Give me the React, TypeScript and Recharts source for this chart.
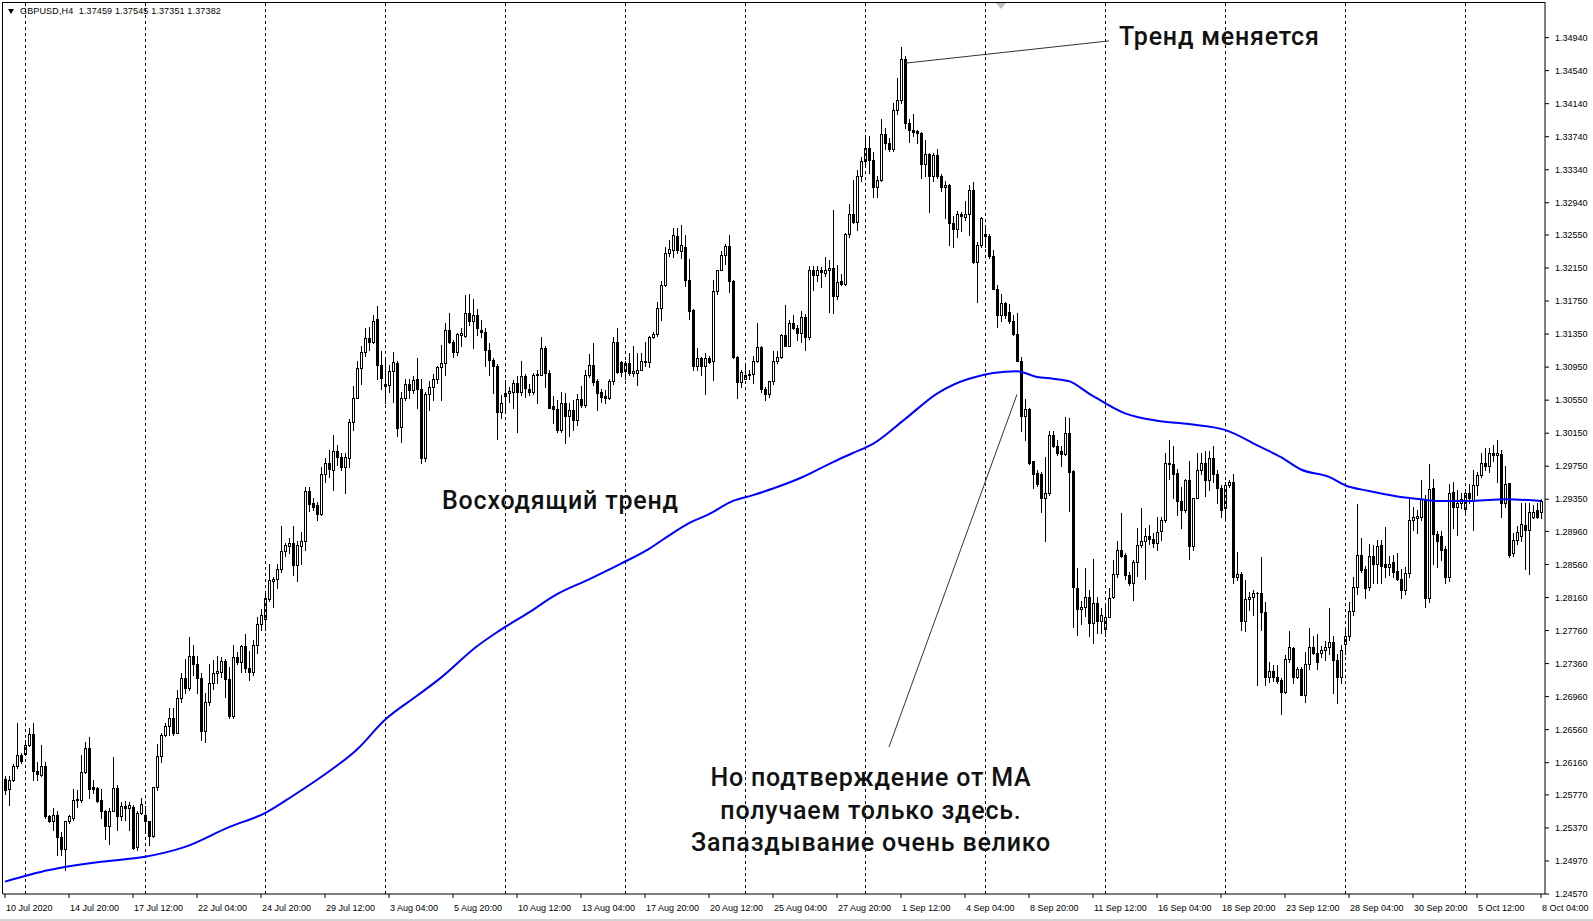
import React from 'react';
import { ComposedChart, Bar, Line, XAxis, YAxis, ReferenceLine } from 'recharts';

// [open, high, low, close] for each H4 bar, one array per trading week
type Ohlc = [number, number, number, number];

const fri10Jul: Ohlc[] = [
  [1.2596, 1.2600, 1.2578, 1.2583], [1.2584, 1.2600, 1.2565, 1.2595], [1.2595, 1.2615, 1.2594, 1.2612],
  [1.2612, 1.2664, 1.2610, 1.2625], [1.2625, 1.2628, 1.2616, 1.2618],
];

const wk13Jul: Ohlc[] = [
  [1.2627, 1.2643, 1.2625, 1.2638], [1.2638, 1.2658, 1.2636, 1.2651], [1.2651, 1.2664, 1.2595, 1.2606],
  [1.2606, 1.2617, 1.2595, 1.2602], [1.2601, 1.2637, 1.2600, 1.2612], [1.2612, 1.2617, 1.2549, 1.2552],
  [1.2552, 1.2553, 1.2544, 1.2545], [1.2545, 1.2561, 1.2534, 1.2553], [1.2553, 1.2557, 1.2504, 1.2526],
  [1.2526, 1.2532, 1.2504, 1.2511], [1.2511, 1.2545, 1.2486, 1.2545], [1.2545, 1.2553, 1.2543, 1.2551],
  [1.2549, 1.2584, 1.2547, 1.2571], [1.2571, 1.2583, 1.2562, 1.2572], [1.2571, 1.2625, 1.2569, 1.2605],
  [1.2605, 1.2641, 1.2603, 1.2634], [1.2634, 1.2647, 1.2573, 1.2584], [1.2586, 1.2595, 1.2579, 1.2584],
  [1.2585, 1.2587, 1.2569, 1.2570], [1.2571, 1.2584, 1.2549, 1.2557], [1.2557, 1.2559, 1.2524, 1.2539],
  [1.2539, 1.2561, 1.2517, 1.2557], [1.2557, 1.2623, 1.2557, 1.2585], [1.2585, 1.2589, 1.2534, 1.2551],
  [1.2551, 1.2569, 1.2547, 1.2563], [1.2563, 1.2570, 1.2547, 1.2561], [1.2561, 1.2569, 1.2535, 1.2565],
  [1.2562, 1.2565, 1.2512, 1.2513], [1.2514, 1.2557, 1.2510, 1.2555], [1.2555, 1.2573, 1.2554, 1.2566],
];

const wk20Jul: Ohlc[] = [
  [1.2553, 1.2563, 1.2534, 1.2545], [1.2545, 1.2545, 1.2516, 1.2527], [1.2527, 1.2587, 1.2526, 1.2586],
  [1.2586, 1.2639, 1.2583, 1.2624], [1.2624, 1.2652, 1.2617, 1.2650], [1.2650, 1.2664, 1.2648, 1.2660],
  [1.2660, 1.2682, 1.2650, 1.2670], [1.2670, 1.2682, 1.2650, 1.2652], [1.2652, 1.2704, 1.2652, 1.2694],
  [1.2694, 1.2725, 1.2690, 1.2718], [1.2718, 1.2742, 1.2700, 1.2706], [1.2706, 1.2768, 1.2704, 1.2745],
  [1.2745, 1.2758, 1.2722, 1.2735], [1.2735, 1.2745, 1.2700, 1.2718], [1.2718, 1.2725, 1.2643, 1.2654],
  [1.2654, 1.2700, 1.2641, 1.2690], [1.2690, 1.2735, 1.2686, 1.2712], [1.2712, 1.2740, 1.2705, 1.2725],
  [1.2725, 1.2745, 1.2712, 1.2727], [1.2726, 1.2744, 1.2720, 1.2739], [1.2739, 1.2742, 1.2696, 1.2717],
  [1.2717, 1.2732, 1.2670, 1.2672], [1.2672, 1.2758, 1.2670, 1.2744], [1.2744, 1.2750, 1.2736, 1.2738],
  [1.2738, 1.2758, 1.2726, 1.2757], [1.2757, 1.2772, 1.2726, 1.2731], [1.2731, 1.2751, 1.2716, 1.2726],
  [1.2726, 1.2765, 1.2722, 1.2759], [1.2759, 1.2793, 1.2749, 1.2784], [1.2784, 1.2802, 1.2777, 1.2795],
];

const wk27Jul: Ohlc[] = [
  [1.2790, 1.2821, 1.2777, 1.2815], [1.2814, 1.2857, 1.2812, 1.2837], [1.2836, 1.2841, 1.2805, 1.2838],
  [1.2838, 1.2857, 1.2828, 1.2851], [1.2851, 1.2902, 1.2847, 1.2872], [1.2872, 1.2882, 1.2866, 1.2880],
  [1.2878, 1.2888, 1.2870, 1.2882], [1.2882, 1.2902, 1.2843, 1.2855], [1.2855, 1.2884, 1.2836, 1.2879],
  [1.2878, 1.2895, 1.2857, 1.2884], [1.2884, 1.2950, 1.2873, 1.2945], [1.2945, 1.2950, 1.2921, 1.2929],
  [1.2930, 1.2936, 1.2922, 1.2926], [1.2928, 1.2932, 1.2910, 1.2917], [1.2917, 1.2974, 1.2916, 1.2965],
  [1.2965, 1.2985, 1.2956, 1.2979], [1.2979, 1.2995, 1.2962, 1.2972], [1.2971, 1.3013, 1.2946, 1.2994],
  [1.2994, 1.3001, 1.2977, 1.2986], [1.2986, 1.2991, 1.2970, 1.2974], [1.2974, 1.2991, 1.2943, 1.2986],
  [1.2985, 1.3032, 1.2974, 1.3029], [1.3029, 1.3072, 1.3019, 1.3058], [1.3058, 1.3103, 1.3057, 1.3094],
  [1.3094, 1.3120, 1.3075, 1.3113], [1.3113, 1.3142, 1.3109, 1.3130], [1.3130, 1.3144, 1.3116, 1.3126],
  [1.3126, 1.3158, 1.3124, 1.3151], [1.3153, 1.3169, 1.3080, 1.3097], [1.3097, 1.3114, 1.3069, 1.3082],
];

const wk03Aug: Ohlc[] = [
  [1.3074, 1.3106, 1.3052, 1.3072], [1.3073, 1.3098, 1.3065, 1.3090], [1.3090, 1.3113, 1.3053, 1.3101],
  [1.3100, 1.3102, 1.3011, 1.3021], [1.3022, 1.3065, 1.3004, 1.3057], [1.3057, 1.3080, 1.3055, 1.3074],
  [1.3074, 1.3080, 1.3057, 1.3067], [1.3067, 1.3084, 1.3064, 1.3079], [1.3080, 1.3106, 1.3045, 1.3068],
  [1.3068, 1.3080, 1.2979, 1.2985], [1.2985, 1.3065, 1.2981, 1.3063], [1.3063, 1.3078, 1.3043, 1.3071],
  [1.3071, 1.3087, 1.3055, 1.3080], [1.3080, 1.3096, 1.3076, 1.3095], [1.3095, 1.3122, 1.3055, 1.3100],
  [1.3100, 1.3148, 1.3085, 1.3140], [1.3140, 1.3160, 1.3124, 1.3126], [1.3126, 1.3128, 1.3107, 1.3113],
  [1.3113, 1.3136, 1.3110, 1.3135], [1.3134, 1.3142, 1.3120, 1.3136], [1.3133, 1.3182, 1.3131, 1.3160],
  [1.3160, 1.3184, 1.3146, 1.3151], [1.3151, 1.3178, 1.3118, 1.3158], [1.3158, 1.3165, 1.3134, 1.3142],
  [1.3140, 1.3152, 1.3132, 1.3138], [1.3138, 1.3142, 1.3096, 1.3116], [1.3116, 1.3124, 1.3085, 1.3104],
  [1.3104, 1.3106, 1.3064, 1.3096], [1.3096, 1.3099, 1.3008, 1.3041], [1.3041, 1.3061, 1.3033, 1.3052],
];

const wk10Aug: Ohlc[] = [
  [1.3060, 1.3079, 1.3039, 1.3064], [1.3064, 1.3071, 1.3053, 1.3066], [1.3065, 1.3079, 1.3045, 1.3076],
  [1.3076, 1.3084, 1.3017, 1.3065], [1.3065, 1.3102, 1.3061, 1.3084], [1.3084, 1.3087, 1.3059, 1.3070],
  [1.3069, 1.3075, 1.3061, 1.3065], [1.3065, 1.3088, 1.3063, 1.3085], [1.3087, 1.3092, 1.3052, 1.3085],
  [1.3086, 1.3132, 1.3085, 1.3118], [1.3118, 1.3121, 1.3071, 1.3088], [1.3088, 1.3092, 1.3045, 1.3046],
  [1.3048, 1.3060, 1.3027, 1.3044], [1.3044, 1.3055, 1.3017, 1.3019], [1.3019, 1.3065, 1.3016, 1.3052],
  [1.3052, 1.3064, 1.3003, 1.3036], [1.3036, 1.3052, 1.3011, 1.3043], [1.3043, 1.3055, 1.3019, 1.3031],
  [1.3031, 1.3062, 1.3025, 1.3056], [1.3056, 1.3072, 1.3047, 1.3049], [1.3049, 1.3092, 1.3047, 1.3085],
  [1.3085, 1.3111, 1.3083, 1.3098], [1.3098, 1.3124, 1.3073, 1.3077], [1.3078, 1.3081, 1.3043, 1.3064],
  [1.3065, 1.3069, 1.3053, 1.3059], [1.3060, 1.3067, 1.3051, 1.3057], [1.3057, 1.3081, 1.3056, 1.3078],
  [1.3078, 1.3132, 1.3075, 1.3125], [1.3125, 1.3142, 1.3088, 1.3089], [1.3101, 1.3102, 1.3084, 1.3089],
];

const wk17Aug: Ohlc[] = [
  [1.3090, 1.3102, 1.3081, 1.3100], [1.3100, 1.3112, 1.3086, 1.3088], [1.3088, 1.3120, 1.3084, 1.3090],
  [1.3088, 1.3112, 1.3073, 1.3092], [1.3092, 1.3112, 1.3092, 1.3102], [1.3101, 1.3126, 1.3096, 1.3102],
  [1.3101, 1.3133, 1.3095, 1.3132], [1.3132, 1.3137, 1.3130, 1.3135], [1.3135, 1.3174, 1.3133, 1.3167],
  [1.3167, 1.3199, 1.3152, 1.3195], [1.3195, 1.3240, 1.3193, 1.3233], [1.3233, 1.3249, 1.3230, 1.3238],
  [1.3237, 1.3263, 1.3228, 1.3255], [1.3254, 1.3263, 1.3233, 1.3237], [1.3236, 1.3267, 1.3227, 1.3243],
  [1.3241, 1.3255, 1.3193, 1.3201], [1.3201, 1.3226, 1.3153, 1.3163], [1.3164, 1.3165, 1.3092, 1.3096],
  [1.3096, 1.3118, 1.3092, 1.3106], [1.3106, 1.3107, 1.3085, 1.3096], [1.3096, 1.3112, 1.3063, 1.3106],
  [1.3106, 1.3108, 1.3100, 1.3101], [1.3102, 1.3201, 1.3079, 1.3187], [1.3187, 1.3213, 1.3184, 1.3213],
  [1.3213, 1.3235, 1.3212, 1.3231], [1.3231, 1.3244, 1.3220, 1.3242], [1.3242, 1.3255, 1.3186, 1.3199],
  [1.3199, 1.3201, 1.3106, 1.3107], [1.3107, 1.3109, 1.3058, 1.3077], [1.3077, 1.3092, 1.3071, 1.3089],
];

const wk24Aug: Ohlc[] = [
  [1.3081, 1.3100, 1.3080, 1.3086], [1.3086, 1.3092, 1.3080, 1.3087], [1.3087, 1.3108, 1.3076, 1.3102],
  [1.3102, 1.3148, 1.3101, 1.3119], [1.3119, 1.3120, 1.3065, 1.3068], [1.3068, 1.3071, 1.3055, 1.3063],
  [1.3063, 1.3078, 1.3059, 1.3078], [1.3078, 1.3114, 1.3075, 1.3103], [1.3103, 1.3114, 1.3100, 1.3107],
  [1.3107, 1.3135, 1.3106, 1.3134], [1.3134, 1.3170, 1.3120, 1.3121], [1.3121, 1.3152, 1.3120, 1.3149],
  [1.3149, 1.3158, 1.3141, 1.3142], [1.3142, 1.3146, 1.3128, 1.3136], [1.3136, 1.3163, 1.3125, 1.3156],
  [1.3156, 1.3159, 1.3116, 1.3132], [1.3132, 1.3218, 1.3129, 1.3213], [1.3213, 1.3217, 1.3188, 1.3207],
  [1.3207, 1.3217, 1.3199, 1.3213], [1.3213, 1.3216, 1.3192, 1.3210], [1.3209, 1.3228, 1.3205, 1.3212],
  [1.3212, 1.3225, 1.3162, 1.3215], [1.3215, 1.3285, 1.3160, 1.3181], [1.3181, 1.3219, 1.3178, 1.3198],
  [1.3199, 1.3208, 1.3195, 1.3196], [1.3196, 1.3257, 1.3195, 1.3256], [1.3256, 1.3292, 1.3253, 1.3280],
  [1.3280, 1.3322, 1.3269, 1.3271], [1.3271, 1.3334, 1.3261, 1.3327], [1.3327, 1.3350, 1.3320, 1.3345],
];

const wk31Aug: Ohlc[] = [
  [1.3345, 1.3372, 1.3338, 1.3360], [1.3360, 1.3375, 1.3330, 1.3346], [1.3346, 1.3355, 1.3301, 1.3313],
  [1.3313, 1.3327, 1.3301, 1.3322], [1.3322, 1.3396, 1.3320, 1.3377], [1.3377, 1.3385, 1.3359, 1.3366],
  [1.3366, 1.3373, 1.3357, 1.3359], [1.3359, 1.3415, 1.3357, 1.3406], [1.3406, 1.3445, 1.3401, 1.3419],
  [1.3419, 1.3483, 1.3415, 1.3468], [1.3468, 1.3472, 1.3385, 1.3391], [1.3391, 1.3396, 1.3368, 1.3382],
  [1.3382, 1.3401, 1.3375, 1.3380], [1.3381, 1.3382, 1.3366, 1.3378], [1.3378, 1.3380, 1.3324, 1.3341],
  [1.3341, 1.3370, 1.3327, 1.3353], [1.3353, 1.3354, 1.3283, 1.3327], [1.3327, 1.3354, 1.3320, 1.3352],
  [1.3352, 1.3359, 1.3324, 1.3327], [1.3327, 1.3329, 1.3308, 1.3313], [1.3313, 1.3320, 1.3276, 1.3315],
  [1.3315, 1.3317, 1.3243, 1.3269], [1.3269, 1.3278, 1.3241, 1.3262], [1.3262, 1.3284, 1.3252, 1.3280],
  [1.3280, 1.3283, 1.3260, 1.3278], [1.3277, 1.3296, 1.3273, 1.3280], [1.3280, 1.3315, 1.3255, 1.3310],
  [1.3310, 1.3319, 1.3221, 1.3222], [1.3222, 1.3247, 1.3174, 1.3243], [1.3243, 1.3277, 1.3241, 1.3276],
];

const wk07Sep: Ohlc[] = [
  [1.3256, 1.3264, 1.3241, 1.3254], [1.3254, 1.3256, 1.3227, 1.3229], [1.3229, 1.3237, 1.3190, 1.3190],
  [1.3190, 1.3195, 1.3144, 1.3158], [1.3158, 1.3183, 1.3151, 1.3173], [1.3173, 1.3174, 1.3155, 1.3158],
  [1.3162, 1.3171, 1.3148, 1.3151], [1.3151, 1.3158, 1.3134, 1.3135], [1.3135, 1.3160, 1.3102, 1.3103],
  [1.3103, 1.3107, 1.3018, 1.3036], [1.3036, 1.3056, 1.3007, 1.3044], [1.3044, 1.3046, 1.2978, 1.2979],
  [1.2981, 1.2981, 1.2949, 1.2965], [1.2967, 1.2971, 1.2951, 1.2954], [1.2965, 1.2968, 1.2919, 1.2937],
  [1.2937, 1.2986, 1.2884, 1.2942], [1.2942, 1.3018, 1.2940, 1.3013], [1.3013, 1.3018, 1.2998, 1.3000],
  [1.3000, 1.3007, 1.2989, 1.2991], [1.2993, 1.2999, 1.2975, 1.2990], [1.2990, 1.3035, 1.2989, 1.3015],
  [1.3015, 1.3033, 1.2921, 1.2968], [1.2969, 1.2970, 1.2780, 1.2829], [1.2827, 1.2852, 1.2771, 1.2802],
  [1.2802, 1.2812, 1.2784, 1.2805], [1.2805, 1.2852, 1.2794, 1.2817], [1.2817, 1.2825, 1.2770, 1.2785],
  [1.2785, 1.2863, 1.2761, 1.2809], [1.2809, 1.2817, 1.2773, 1.2787], [1.2787, 1.2803, 1.2773, 1.2795],
];

const wk14Sep: Ohlc[] = [
  [1.2778, 1.2809, 1.2769, 1.2793], [1.2793, 1.2827, 1.2793, 1.2816], [1.2817, 1.2861, 1.2815, 1.2845],
  [1.2845, 1.2884, 1.2841, 1.2873], [1.2873, 1.2918, 1.2865, 1.2866], [1.2867, 1.2870, 1.2839, 1.2843],
  [1.2843, 1.2847, 1.2831, 1.2834], [1.2834, 1.2861, 1.2813, 1.2859], [1.2859, 1.2900, 1.2842, 1.2879],
  [1.2879, 1.2924, 1.2877, 1.2885], [1.2885, 1.2900, 1.2839, 1.2891], [1.2891, 1.2904, 1.2881, 1.2887],
  [1.2887, 1.2894, 1.2877, 1.2882], [1.2882, 1.2914, 1.2874, 1.2895], [1.2896, 1.2914, 1.2886, 1.2910],
  [1.2910, 1.2991, 1.2907, 1.2979], [1.2978, 1.3007, 1.2960, 1.2979], [1.2978, 1.2999, 1.2936, 1.2965],
  [1.2967, 1.2972, 1.2916, 1.2933], [1.2933, 1.2950, 1.2900, 1.2922], [1.2922, 1.2960, 1.2919, 1.2958],
  [1.2958, 1.2981, 1.2863, 1.2878], [1.2878, 1.2937, 1.2873, 1.2937], [1.2937, 1.2991, 1.2936, 1.2971],
  [1.2971, 1.2991, 1.2966, 1.2979], [1.2979, 1.2993, 1.2939, 1.2958], [1.2958, 1.2993, 1.2946, 1.2985],
  [1.2985, 1.3000, 1.2956, 1.2966], [1.2966, 1.2970, 1.2931, 1.2949], [1.2949, 1.2952, 1.2914, 1.2922],
];

const wk21Sep: Ohlc[] = [
  [1.2924, 1.2956, 1.2912, 1.2952], [1.2952, 1.2958, 1.2950, 1.2956], [1.2956, 1.2966, 1.2833, 1.2841],
  [1.2841, 1.2871, 1.2837, 1.2844], [1.2844, 1.2847, 1.2777, 1.2788], [1.2788, 1.2837, 1.2775, 1.2814],
  [1.2814, 1.2823, 1.2801, 1.2817], [1.2817, 1.2825, 1.2795, 1.2821], [1.2821, 1.2823, 1.2710, 1.2822],
  [1.2822, 1.2865, 1.2777, 1.2798], [1.2798, 1.2811, 1.2710, 1.2720], [1.2720, 1.2738, 1.2714, 1.2727],
  [1.2727, 1.2734, 1.2715, 1.2720], [1.2720, 1.2734, 1.2712, 1.2715], [1.2716, 1.2718, 1.2675, 1.2702],
  [1.2702, 1.2746, 1.2700, 1.2741], [1.2741, 1.2776, 1.2738, 1.2756], [1.2755, 1.2756, 1.2712, 1.2720],
  [1.2720, 1.2732, 1.2718, 1.2730], [1.2730, 1.2732, 1.2698, 1.2698], [1.2698, 1.2750, 1.2689, 1.2735],
  [1.2735, 1.2779, 1.2730, 1.2756], [1.2756, 1.2769, 1.2748, 1.2749], [1.2749, 1.2772, 1.2730, 1.2738],
  [1.2749, 1.2757, 1.2744, 1.2752], [1.2752, 1.2763, 1.2740, 1.2756], [1.2756, 1.2803, 1.2748, 1.2762],
  [1.2762, 1.2770, 1.2700, 1.2740], [1.2740, 1.2748, 1.2688, 1.2720], [1.2720, 1.2758, 1.2712, 1.2752],
];

const wk28Sep: Ohlc[] = [
  [1.2760, 1.2778, 1.2748, 1.2770], [1.2770, 1.2810, 1.2765, 1.2800], [1.2800, 1.2841, 1.2795, 1.2829],
  [1.2829, 1.2929, 1.2820, 1.2868], [1.2868, 1.2888, 1.2847, 1.2849], [1.2851, 1.2854, 1.2815, 1.2827],
  [1.2829, 1.2881, 1.2825, 1.2866], [1.2866, 1.2879, 1.2833, 1.2857], [1.2857, 1.2886, 1.2833, 1.2878],
  [1.2879, 1.2886, 1.2833, 1.2854], [1.2857, 1.2901, 1.2841, 1.2853], [1.2853, 1.2866, 1.2843, 1.2857],
  [1.2859, 1.2867, 1.2841, 1.2847], [1.2848, 1.2870, 1.2837, 1.2839], [1.2838, 1.2851, 1.2815, 1.2825],
  [1.2825, 1.2853, 1.2820, 1.2846], [1.2846, 1.2935, 1.2841, 1.2910], [1.2910, 1.2926, 1.2898, 1.2914],
  [1.2912, 1.2922, 1.2894, 1.2915], [1.2913, 1.2958, 1.2910, 1.2935], [1.2935, 1.2940, 1.2805, 1.2815],
  [1.2815, 1.2978, 1.2810, 1.2948], [1.2949, 1.2960, 1.2857, 1.2893], [1.2893, 1.2896, 1.2853, 1.2884],
  [1.2891, 1.2896, 1.2861, 1.2874], [1.2875, 1.2878, 1.2833, 1.2841], [1.2841, 1.2954, 1.2836, 1.2943],
  [1.2944, 1.2956, 1.2900, 1.2926], [1.2926, 1.2946, 1.2892, 1.2930], [1.2930, 1.2942, 1.2925, 1.2935],
];

const wk05Oct: Ohlc[] = [
  [1.2923, 1.2948, 1.2917, 1.2942], [1.2943, 1.2954, 1.2931, 1.2936], [1.2934, 1.2971, 1.2898, 1.2952],
  [1.2952, 1.2968, 1.2940, 1.2964], [1.2964, 1.2991, 1.2962, 1.2979], [1.2979, 1.2997, 1.2970, 1.2975],
  [1.2975, 1.2997, 1.2968, 1.2991], [1.2991, 1.3001, 1.2981, 1.2989], [1.2989, 1.3007, 1.2956, 1.2991],
  [1.2990, 1.2995, 1.2914, 1.2930], [1.2930, 1.2975, 1.2926, 1.2954], [1.2955, 1.2955, 1.2865, 1.2868],
  [1.2870, 1.2894, 1.2866, 1.2886], [1.2886, 1.2903, 1.2881, 1.2895], [1.2890, 1.2930, 1.2884, 1.2905],
  [1.2904, 1.2930, 1.2850, 1.2898], [1.2898, 1.2930, 1.2845, 1.2920], [1.2914, 1.2928, 1.2912, 1.2919],
  [1.2922, 1.2930, 1.2912, 1.2914], [1.2919, 1.2935, 1.2912, 1.2933],
];

// moving average: [bar index, value]
const maPoints: [number, number][] = [
  [0, 1.2472], [11, 1.2486], [24, 1.2496], [35, 1.2502], [45, 1.2514], [56, 1.2538], [65, 1.2555],
  [72, 1.2576], [80, 1.2602], [88, 1.2632], [95, 1.2668], [103, 1.2697], [109, 1.2719], [118, 1.2757],
  [123, 1.2774], [131, 1.2798], [138, 1.2820], [146, 1.2838], [154, 1.2857], [161, 1.2875], [166, 1.2891],
  [171, 1.2906], [176, 1.2917], [182, 1.2933], [187, 1.2940], [192, 1.2948], [199, 1.2961], [207, 1.2980],
  [212, 1.2991], [217, 1.3002], [225, 1.3032], [233, 1.3063], [241, 1.3081], [253, 1.3090], [258, 1.3083],
  [262, 1.3081], [266, 1.3078], [271, 1.3063], [280, 1.3039], [288, 1.3030], [296, 1.3026], [305, 1.3019],
  [314, 1.2998], [319, 1.2986], [324, 1.2971], [331, 1.2962], [335, 1.2952], [341, 1.2945], [345, 1.2941],
  [350, 1.2937], [354, 1.2935], [358, 1.2933], [367, 1.2933], [375, 1.2935], [384, 1.2933],
];

// bottom axis labels, one every 16 bars
const timeLabels = [
  '10 Jul 2020', '14 Jul 20:00', '17 Jul 12:00', '22 Jul 04:00', '24 Jul 20:00', '29 Jul 12:00',
  '3 Aug 04:00', '5 Aug 20:00', '10 Aug 12:00', '13 Aug 04:00', '17 Aug 20:00', '20 Aug 12:00',
  '25 Aug 04:00', '27 Aug 20:00', '1 Sep 12:00', '4 Sep 04:00', '8 Sep 20:00', '11 Sep 12:00',
  '16 Sep 04:00', '18 Sep 20:00', '23 Sep 12:00', '28 Sep 04:00', '30 Sep 20:00', '5 Oct 12:00',
  '8 Oct 04:00',
];

const priceTicks = [
  1.3494, 1.3454, 1.3414, 1.3374, 1.3334, 1.3294, 1.3255, 1.3215, 1.3175, 1.3135, 1.3095, 1.3055,
  1.3015, 1.2975, 1.2935, 1.2896, 1.2856, 1.2816, 1.2776, 1.2736, 1.2696, 1.2656, 1.2616, 1.2577,
  1.2537, 1.2497, 1.2457,
];

const weeks = [fri10Jul, wk13Jul, wk20Jul, wk27Jul, wk03Aug, wk10Aug, wk17Aug, wk24Aug, wk31Aug, wk07Sep, wk14Sep, wk21Sep, wk28Sep, wk05Oct];

const maByBar = new Map(maPoints);
const data = weeks.flat().map(([o, h, l, c], i) => ({
  idx: i, o, h, l, c, range: [l, h], ma: maByBar.get(i) ?? null,
}));

// a dashed line at the first bar of every week
const weekStarts: number[] = [];
weeks.reduce((acc, w, k) => {
  if (k > 0) weekStarts.push(acc);
  return acc + w.length;
}, 0);

const axisFont = { fontSize: 9, fontFamily: 'Liberation Sans', fill: '#000' };
const noteFont: React.CSSProperties = {
  position: 'absolute', fontFamily: 'Roboto', fontWeight: 500, fontSize: 25, color: '#111',
  whiteSpace: 'nowrap', lineHeight: '32.5px', letterSpacing: 0.8,
};

const Candle = (props: any) => {
  const { x, y, width, height, payload } = props;
  if (!payload) return null;
  const { o, h, l, c } = payload;
  const top = Math.min(y, y + height);
  const span = Math.abs(height);
  const k = h > l ? span / (h - l) : 0;
  const cx = Math.floor(x + width / 2);
  const yO = Math.round(top + (h - o) * k);
  const yC = Math.round(top + (h - c) * k);
  const bTop = Math.min(yO, yC);
  const bBot = Math.max(yO, yC);
  const up = c >= o;
  return (
    <g shapeRendering="crispEdges">
      <line x1={cx + 0.5} x2={cx + 0.5} y1={Math.round(top)} y2={Math.round(top + span) + 1} stroke="#000" />
      {bBot - bTop < 1 ? (
        <line x1={cx - 1} x2={cx + 2} y1={bTop + 0.5} y2={bTop + 0.5} stroke="#000" />
      ) : up ? (
        <rect x={cx - 0.5} y={bTop + 0.5} width={2} height={bBot - bTop} fill="#fff" stroke="#000" />
      ) : (
        <rect x={cx - 1} y={bTop} width={3} height={bBot - bTop + 1} fill="#000" />
      )}
    </g>
  );
};

const TimeTick = (props: any) => {
  const { x, y, payload } = props;
  return (
    <text x={x + 1} y={y + 11} {...axisFont} textAnchor="start">
      {timeLabels[Math.round(payload.value / 16)]}
    </text>
  );
};

export default function App() {
  return (
    <div style={{ position: 'relative', width: 1593, height: 921, background: '#fff', overflow: 'hidden' }}>
      <style>{'body{margin:0}'}</style>
      <ComposedChart width={1593} height={921} data={data} margin={{ top: 2, right: 0, bottom: 0, left: 3 }}>
        {weekStarts.map((i) => (
          <ReferenceLine key={i} x={i} stroke="#000" strokeDasharray="3 3" shapeRendering="crispEdges" />
        ))}
        <XAxis
          dataKey="idx"
          type="category"
          interval={15}
          height={27}
          tickSize={4}
          padding={{ left: 0, right: 2 }}
          axisLine={{ stroke: '#000' }}
          tickLine={{ stroke: '#000' }}
          tick={<TimeTick />}
        />
        <YAxis
          orientation="right"
          type="number"
          width={48}
          domain={[1.2457, 1.35371]}
          allowDataOverflow
          ticks={priceTicks}
          interval={0}
          tickSize={4}
          tickMargin={6}
          tickFormatter={(v: number) => v.toFixed(5)}
          tick={axisFont}
          axisLine={{ stroke: '#000' }}
          tickLine={{ stroke: '#000' }}
        />
        <Bar dataKey="range" barSize={3} shape={<Candle />} isAnimationActive={false} />
        <Line dataKey="ma" type="monotone" stroke="#0000ff" strokeWidth={2} dot={false} connectNulls isAnimationActive={false} />
        <ReferenceLine segment={[{ x: 225, y: 1.3463 }, { x: 276, y: 1.349 }]} stroke="#333" strokeWidth={1} />
        <ReferenceLine segment={[{ x: 253, y: 1.3062 }, { x: 221, y: 1.2635 }]} stroke="#333" strokeWidth={1} />
      </ComposedChart>

      {/* frame, header and small markers */}
      <div style={{ position: 'absolute', left: 2, top: 2, width: 1543, height: 892, borderLeft: '1px solid #000', borderTop: '1px solid #000', boxSizing: 'border-box', pointerEvents: 'none' }} />
      <div style={{ position: 'absolute', left: 0, top: 919, width: 1593, height: 2, background: '#d4d4d4' }} />
      <div style={{ position: 'absolute', left: 996, top: 3, width: 0, height: 0, borderLeft: '5px solid transparent', borderRight: '5px solid transparent', borderTop: '6px solid #c0c0c0' }} />
      <div style={{ position: 'absolute', left: 8, top: 9, width: 0, height: 0, borderLeft: '3.5px solid transparent', borderRight: '3.5px solid transparent', borderTop: '5px solid #000' }} />
      <div style={{ position: 'absolute', left: 20, top: 6, fontFamily: 'Liberation Sans', fontSize: 9, color: '#000', whiteSpace: 'pre', letterSpacing: 0.15 }}>
        GBPUSD,H4  1.37459 1.37545 1.37351 1.37382
      </div>

      {/* annotations */}
      <div style={{ ...noteFont, left: 1119, top: 37, transform: 'translateY(-50%)' }}>Тренд меняется</div>
      <div style={{ ...noteFont, left: 442, top: 501, transform: 'translateY(-50%)' }}>Восходящий тренд</div>
      <div style={{ ...noteFont, left: 621, top: 762, width: 500, textAlign: 'center' }}>
        Но подтверждение от МА<br />получаем только здесь.<br />Запаздывание очень велико
      </div>
    </div>
  );
}
